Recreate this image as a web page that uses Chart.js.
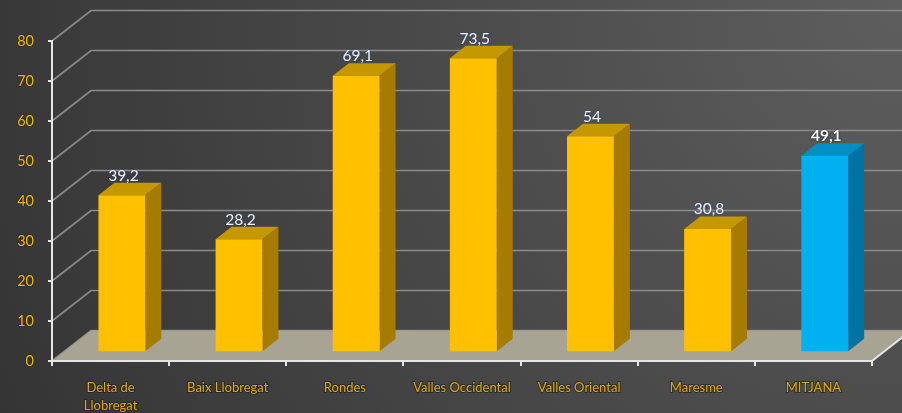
<!DOCTYPE html>
<html>
<head>
<meta charset="utf-8">
<script src="https://cdn.jsdelivr.net/npm/chart.js@4/dist/chart.umd.min.js"></script>
<style>
  html, body { margin: 0; padding: 0; background: #3c3c3c; }
  canvas { display: block; }
</style>
</head>
<body>
<canvas id="chart" width="902" height="413"></canvas>
<script>
// zones and their values; last one is the overall average
const zones = [['Delta de', 'Llobregat'], 'Baix Llobregat', 'Rondes', 'Valles Occidental', 'Valles Oriental', 'Maresme', 'MITJANA'];
const values = [39.2, 28.2, 69.1, 73.5, 54, 30.8, 49.1];
const averageIndex = 6;
const yMin = 0;
const yMax = 80;
const yStep = 10;

// face colours: front, top, side
const yellowFaces = ['#ffc000', '#c69800', '#a67c00'];
const blueFaces = ['#00b0f0', '#0090c6', '#0073a3'];

// depth of the floor / back wall, and where the bars sit inside it
const DEPTH_X = 39;
const DEPTH_Y = 30.5;
const BAR_FRONT = 0.29;
const BAR_BACK = 0.70;

const fmt = (v) => String(v).replace('.', ',');

function poly(ctx, pts, fill) {
  ctx.beginPath();
  ctx.moveTo(pts[0][0], pts[0][1]);
  for (let i = 1; i < pts.length; i++) ctx.lineTo(pts[i][0], pts[i][1]);
  ctx.closePath();
  ctx.fillStyle = fill;
  ctx.fill();
}

const scene3d = {
  id: 'scene3d',
  beforeDraw(chart) {
    const { ctx, chartArea: a, scales: { y } } = chart;
    ctx.save();

    const bg = ctx.createRadialGradient(chart.width, 0, 0, chart.width, 0, 1050);
    bg.addColorStop(0, '#5e5e5e');
    bg.addColorStop(0.45, '#4a4a4a');
    bg.addColorStop(1, '#323232');
    ctx.fillStyle = bg;
    ctx.fillRect(0, 0, chart.width, chart.height);

    // grid on the side and back walls
    ctx.strokeStyle = '#8a8a8a';
    ctx.lineWidth = 1.7;
    y.ticks.forEach((t) => {
      const py = y.getPixelForValue(t.value);
      ctx.beginPath();
      ctx.moveTo(a.left, py);
      ctx.lineTo(a.left + DEPTH_X, py - DEPTH_Y);
      ctx.lineTo(chart.width, py - DEPTH_Y);
      ctx.stroke();
    });

    // floor
    const base = y.getPixelForValue(yMin);
    poly(ctx, [
      [a.left, base], [a.right, base],
      [a.right + DEPTH_X, base - DEPTH_Y], [a.left + DEPTH_X, base - DEPTH_Y]
    ], '#a7a494');

    ctx.strokeStyle = '#e6e6e6';
    ctx.lineWidth = 2;
    ctx.beginPath();
    ctx.moveTo(a.right, base);
    ctx.lineTo(a.right + DEPTH_X, base - DEPTH_Y);
    ctx.stroke();
    ctx.restore();
  },
  beforeDatasetsDraw(chart) {
    const { ctx } = chart;
    const meta = chart.getDatasetMeta(0);
    const fx = BAR_FRONT * DEPTH_X, fy = BAR_FRONT * DEPTH_Y;
    const bx = BAR_BACK * DEPTH_X, by = BAR_BACK * DEPTH_Y;

    ctx.save();
    meta.data.forEach((bar, i) => {
      const { x, y, base, width } = bar.getProps(['x', 'y', 'base', 'width'], true);
      const [front, top, side] = i === averageIndex ? blueFaces : yellowFaces;
      const l = x - width / 2, r = x + width / 2;

      poly(ctx, [[r + fx, y - fy], [r + bx, y - by], [r + bx, base - by], [r + fx, base - fy]], side);
      poly(ctx, [[l + fx, y - fy], [r + fx, y - fy], [r + bx, y - by], [l + bx, y - by]], top);
      poly(ctx, [[l + fx, y - fy], [r + fx, y - fy], [r + fx, base - fy], [l + fx, base - fy]], front);

      // value label above the bar
      const v = chart.data.datasets[0].data[i];
      ctx.textAlign = 'center';
      ctx.textBaseline = 'middle';
      if (i === averageIndex) {
        ctx.font = 'bold 15.5px Lato';
        ctx.fillStyle = '#ffffff';
        ctx.shadowColor = 'rgba(0,0,0,0.9)';
      } else {
        ctx.font = '15.5px Lato';
        ctx.fillStyle = '#eef2fa';
        ctx.shadowColor = 'rgba(40,70,130,0.9)';
      }
      ctx.shadowBlur = 2;
      ctx.fillText(fmt(v), x + fx + 1.5, y - by - 7);
      ctx.shadowBlur = 0;
      ctx.shadowColor = 'transparent';
    });
    ctx.restore();
    return false;
  }
};

new Chart(document.getElementById('chart').getContext('2d'), {
  type: 'bar',
  data: {
    labels: zones,
    datasets: [
      {
        data: values,
        backgroundColor: values.map((v, i) => (i === averageIndex ? blueFaces[0] : yellowFaces[0])),
        barPercentage: 0.4,
        categoryPercentage: 1,
      },
    ],
  },
  options: {
    responsive: false,
    animation: false,
    layout: { padding: { top: 41, right: 30, left: 0, bottom: 0 } },
    plugins: {
      legend: { display: false },
      tooltip: { enabled: false },
    },
    scales: {
      x: {
        grid: { drawOnChartArea: false, drawTicks: true, tickLength: 5, color: '#e6e6e6', lineWidth: 2 },
        border: { color: '#e6e6e6', width: 2 },
        ticks: {
          color: '#e2aa00',
          textStrokeColor: 'rgba(25,25,25,0.55)',
          textStrokeWidth: 2,
          font: { family: 'Lato', size: 13, lineHeight: 1.45 },
          padding: 12,
          maxRotation: 0,
          autoSkip: false,
        },
        afterFit(scale) {
          scale.height = 52;
        },
      },
      y: {
        min: yMin,
        max: yMax,
        grid: { drawOnChartArea: false, drawTicks: true, tickLength: 4, color: '#e6e6e6', lineWidth: 2 },
        border: { color: '#e6e6e6', width: 2 },
        ticks: {
          stepSize: yStep,
          color: '#f2b800',
          textStrokeColor: 'rgba(25,25,25,0.4)',
          textStrokeWidth: 1.5,
          font: { family: 'Lato', size: 14.5 },
          padding: 14,
        },
        afterFit(scale) {
          scale.width = 52;
        },
      },
    },
  },
  plugins: [scene3d],
});
</script>
</body>
</html>
